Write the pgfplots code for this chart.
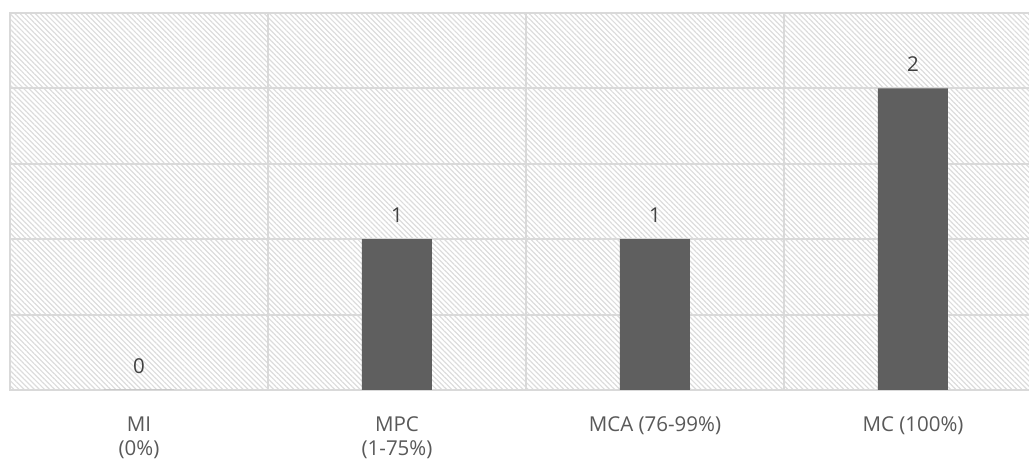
\documentclass[border=0pt]{standalone}
\usepackage{pgfplots}
\pgfplotsset{compat=1.18}
\usetikzlibrary{patterns.meta}
\usepackage{fontspec}
\setmainfont{Open Sans}
\definecolor{gridc}{HTML}{D9D9D9}
\definecolor{barc}{HTML}{5F5F5F}
\definecolor{txtc}{HTML}{595959}
\definecolor{lblc}{HTML}{404040}
\definecolor{hatch}{HTML}{DCDCDC}
\begin{document}
\begin{tikzpicture}
\begin{axis}[
  at={(0pt,0pt)}, anchor=south west,
  scale only axis, width=1032pt, height=377pt,
  xmin=-0.5, xmax=3.5, ymin=0, ymax=2.5,
  axis background/.style={pattern={Lines[angle=-45,distance=3.6pt,line width=1.2pt]}, pattern color=hatch},
  axis line style={gridc, line width=2pt},
  xtick={0,1,2,3},
  xticklabels={{MI\\(0\%)},{MPC\\(1-75\%)},{MCA (76-99\%)},{MC (100\%)}},
  xticklabel style={align=center, text=txtc, font=\fontsize{20.5}{24}\selectfont, anchor=north, yshift=-23pt},
  minor xtick={0.5,1.5,2.5},
  xminorgrids, minor x grid style={gridc, line width=2pt},
  ytick={0,0.5,1,1.5,2,2.5}, yticklabels={},
  ymajorgrids, major y grid style={gridc, line width=2pt},
  major tick length=0pt, minor tick length=0pt,
  /pgf/number format/assume math mode=true,
  nodes near coords,
  every node near coord/.append style={text=lblc, font=\fontsize{20.5}{24}\selectfont, yshift=13pt},
]
\addplot[ybar, bar width=70pt, fill=barc, draw=none] coordinates {(0,0) (1,1) (2,1) (3,2)};
\end{axis}
\pgfresetboundingbox
\path (-10pt,-72pt) rectangle (1019pt,390pt);
\end{tikzpicture}
\end{document}
